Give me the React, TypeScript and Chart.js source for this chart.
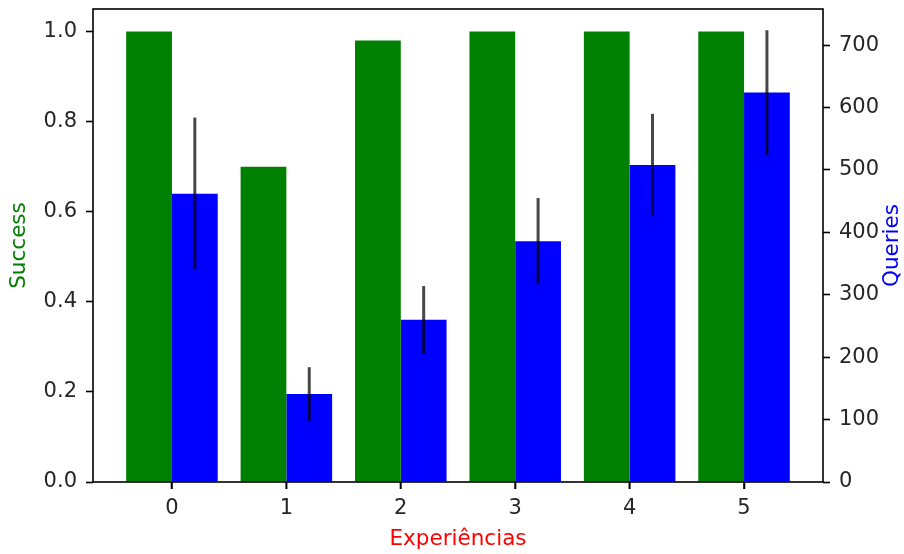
import React, { useEffect, useRef } from "react";
import { Chart, registerables } from "chart.js";

Chart.register(...registerables);

const categories = [0, 1, 2, 3, 4, 5];
const successValues = [1.0, 0.7, 0.98, 1.0, 1.0, 1.0];
const queryValues = [462, 141, 260, 386, 508, 624];
const queryErrors = [122, 43, 54, 69, 82, 100];

const FONT = "'DejaVu Sans', sans-serif";
const TEXT = "#262626";
const TICK_SIZE = 21;
const LABEL_SIZE = 21.5;

export default function App() {
  const ref = useRef<HTMLCanvasElement | null>(null);

  useEffect(() => {
    if (!ref.current) return;

    const errorBars = {
      id: "errorBars",
      afterDatasetsDraw(chart: any) {
        const meta = chart.getDatasetMeta(1);
        const y1 = chart.scales.y1;
        const ctx = chart.ctx;
        ctx.save();
        ctx.strokeStyle = "rgba(0,0,0,0.72)";
        ctx.lineWidth = 3;
        meta.data.forEach((el: any, i: number) => {
          const top = y1.getPixelForValue(queryValues[i] + queryErrors[i]);
          const bot = y1.getPixelForValue(queryValues[i] - queryErrors[i]);
          ctx.beginPath();
          ctx.moveTo(el.x, top);
          ctx.lineTo(el.x, bot);
          ctx.stroke();
        });
        ctx.restore();
      },
    };

    const frame = {
      id: "frame",
      afterDraw(chart: any) {
        const { ctx, chartArea: a } = chart;
        ctx.save();
        ctx.strokeStyle = "#000";
        ctx.lineWidth = 1.6;
        ctx.strokeRect(a.left, a.top, a.right - a.left, a.bottom - a.top);
        // x tick marks, from the x scale's own ticks
        const xs = chart.scales.x;
        ctx.beginPath();
        xs.ticks.forEach((t: any) => {
          const px = xs.getPixelForValue(t.value);
          ctx.moveTo(px, a.bottom);
          ctx.lineTo(px, a.bottom + 7);
        });
        ctx.stroke();
        // right axis title, reading bottom-to-top like the left one
        ctx.fillStyle = "#0000ff";
        ctx.font = `${LABEL_SIZE}px ${FONT}`;
        ctx.textAlign = "center";
        ctx.textBaseline = "middle";
        ctx.translate(892, (a.top + a.bottom) / 2);
        ctx.rotate(-Math.PI / 2);
        ctx.fillText("Queries", 0, 0);
        ctx.restore();
      },
    };

    const whiteBg = {
      id: "whiteBg",
      beforeDraw(chart: any) {
        const ctx = chart.ctx;
        ctx.save();
        ctx.fillStyle = "#fff";
        ctx.fillRect(0, 0, chart.width, chart.height);
        ctx.restore();
      },
    };

    const tickGrid = {
      display: true,
      offset: false,
      drawOnChartArea: false,
      drawTicks: true,
      tickLength: 7,
      tickWidth: 1.6,
      tickColor: "#000",
    };

    const chart = new Chart(ref.current, {
      type: "bar",
      data: {
        datasets: [
          {
            label: "Success",
            data: categories.map((c, i) => ({ x: c, y: successValues[i] })),
            backgroundColor: "#008000",
            borderWidth: 0,
            yAxisID: "y",
            categoryPercentage: 0.8,
            barPercentage: 1.0,
          },
          {
            label: "Queries",
            data: categories.map((c, i) => ({ x: c, y: queryValues[i] })),
            backgroundColor: "#0000ff",
            borderWidth: 0,
            yAxisID: "y1",
            categoryPercentage: 0.8,
            barPercentage: 1.0,
          },
        ],
      },
      options: {
        responsive: false,
        animation: false,
        layout: { padding: { top: 9, left: 0, right: 0, bottom: 0 } },
        plugins: {
          legend: { display: false },
          tooltip: { enabled: false },
        },
        scales: {
          x: {
            type: "linear",
            min: -0.69,
            max: 5.69,
            offset: false,
            grid: tickGrid,
            border: { display: false },
            ticks: {
              stepSize: 1,
              includeBounds: false,
              padding: 7,
              color: TEXT,
              font: { family: FONT, size: TICK_SIZE },
              callback: (v: any) => String(v),
            },
            title: {
              display: true,
              text: "Experiências",
              color: "#ff0000",
              font: { family: FONT, size: LABEL_SIZE },
              padding: { top: 0, bottom: 2 },
            },
            afterFit: (s: any) => {
              s.height = 72;
              s.paddingLeft = 0;
              s.paddingRight = 0;
            },
          },
          y: {
            type: "linear",
            position: "left",
            min: 0,
            max: 1.05,
            grid: tickGrid,
            border: { display: false },
            ticks: {
              stepSize: 0.2,
              includeBounds: false,
              padding: 9,
              color: TEXT,
              font: { family: FONT, size: TICK_SIZE },
              callback: (v: any) => Number(v).toFixed(1),
            },
            title: {
              display: true,
              text: "Success",
              color: "#008000",
              font: { family: FONT, size: LABEL_SIZE },
              padding: { top: 7, bottom: 0 },
            },
            afterFit: (s: any) => {
              s.width = 93;
              s.paddingTop = 0;
              s.paddingBottom = 0;
            },
          },
          y1: {
            type: "linear",
            position: "right",
            min: 0,
            max: 758,
            grid: tickGrid,
            border: { display: false },
            ticks: {
              stepSize: 100,
              includeBounds: false,
              padding: 9,
              color: TEXT,
              font: { family: FONT, size: TICK_SIZE },
              callback: (v: any) => String(v),
            },
            afterFit: (s: any) => {
              s.width = 81;
              s.paddingTop = 0;
              s.paddingBottom = 0;
            },
          },
        },
      },
      plugins: [whiteBg, errorBars, frame],
    } as any);

    return () => chart.destroy();
  }, []);

  return (
    <div style={{ position: "absolute", left: 0, top: 0, width: 904, height: 554, background: "#fff" }}>
      <canvas ref={ref} width={904} height={554} style={{ display: "block", width: 904, height: 554 }} />
    </div>
  );
}
